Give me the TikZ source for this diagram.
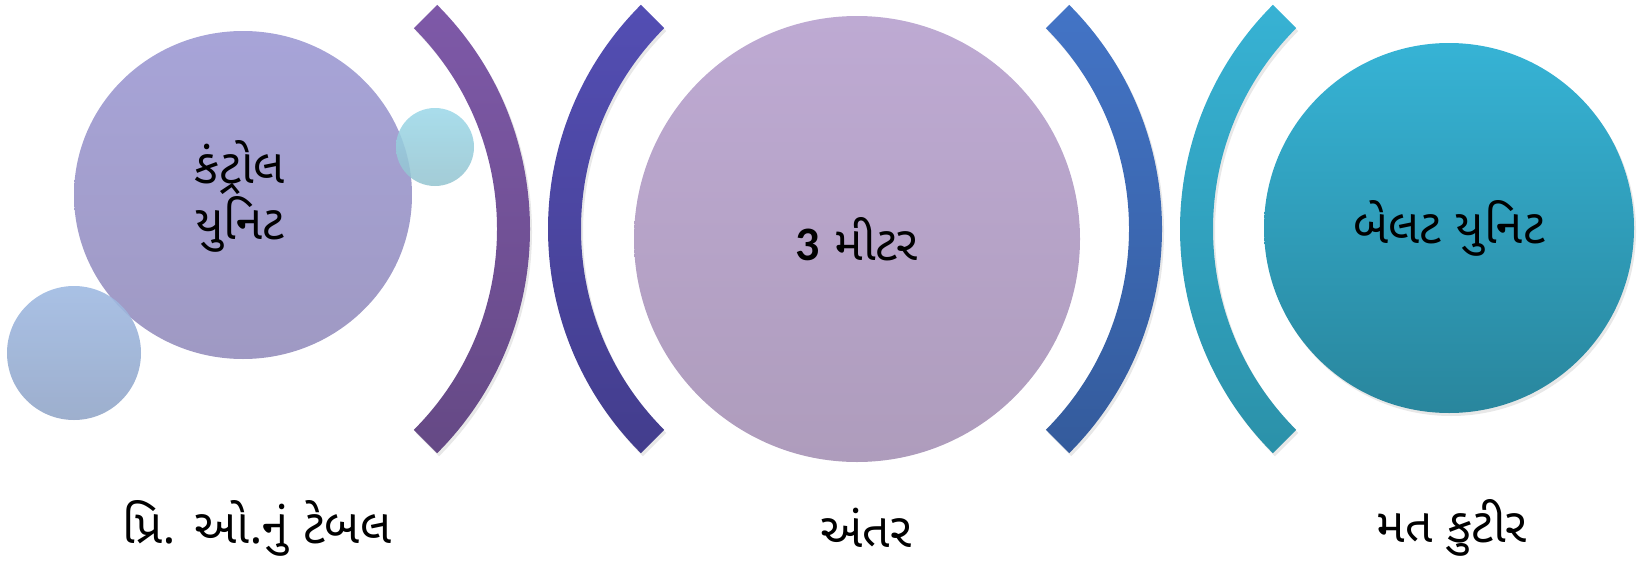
\documentclass[tikz,border=0pt]{standalone}
\usepackage{fontspec}
\setmainfont{Carlito}
\newfontfamily\gujfont[Script=Gujarati]{Noto Sans Gujarati UI}
\usepackage{xcolor}
\definecolor{ctrlTop}{HTML}{A7A4D8}
\definecolor{ctrlBot}{HTML}{9F99C3}
\definecolor{dropTop}{HTML}{9FBAE2}
\definecolor{dropBot}{HTML}{93A6C8}
\definecolor{dotTop}{HTML}{9AD7E8}
\definecolor{dotBot}{HTML}{93C3CF}
\definecolor{arcOneTop}{HTML}{7E59A8}
\definecolor{arcOneBot}{HTML}{654985}
\definecolor{arcTwoTop}{HTML}{534EB3}
\definecolor{arcTwoBot}{HTML}{433D8D}
\definecolor{distTop}{HTML}{BEAAD3}
\definecolor{distBot}{HTML}{AE9CBC}
\definecolor{arcThreeTop}{HTML}{4374C6}
\definecolor{arcThreeBot}{HTML}{345B9C}
\definecolor{arcFourTop}{HTML}{37B2D4}
\definecolor{arcFourBot}{HTML}{2B91A9}
\definecolor{beltTop}{HTML}{36B3D5}
\definecolor{beltBot}{HTML}{29869D}
\usetikzlibrary{calc,shapes.geometric,shadows}

\tikzset{
  bubble/.style={circle, inner sep=0pt, outer sep=0pt, align=center,
    font=\gujfont\fontsize{48}{56}\selectfont},
  band/.style={drop shadow={shadow xshift=2pt, shadow yshift=-3pt, opacity=.18}},
  caption/.style={font=\gujfont\fontsize{48}{56}\selectfont}
}

\begin{document}
\begin{tikzpicture}[x=1pt, y=1pt]
  \useasboundingbox (0,0) rectangle (1645,-562);
  \coordinate (a1) at (213,-229);
  \coordinate (a2) at (865,-229);
  \coordinate (a3) at (845,-229);
  \coordinate (a4) at (1497,-229);

  % circles
  \node[bubble, ellipse, minimum width=338pt, minimum height=328pt, top color=ctrlTop, bottom color=ctrlBot] (ctrl) at (243,-195) {};
  \node[bubble] (ctrltext) at (240,-196) {કંટ્રોલ\\યુનિટ};
  \node[bubble, minimum size=134pt, top color=dropTop, bottom color=dropBot, fill opacity=.9] (drop) at (74,-353) {};
  \node[bubble, minimum size=78pt, top color=dotTop, bottom color=dotBot, fill opacity=.85] (dot) at (435,-147) {};
  \node[bubble, minimum size=446pt, top color=distTop, bottom color=distBot] (dist) at (857,-239) {{\setmainfont{Carlito}\bfseries 3} મીટર};
  \node[bubble, band, minimum size=370pt, top color=beltTop, bottom color=beltBot] (belt) at (1449,-228) {બેલટ યુનિટ};

  % arcs
  \shade[band, top color=arcOneTop, bottom color=arcOneBot] ($(a1)+(-45:284pt)$) arc[start angle=-45, end angle=45, radius=284pt] -- ($(a1)+(45:317pt)$) arc[start angle=45, end angle=-45, radius=317pt] -- cycle;
  \shade[band, top color=arcTwoTop, bottom color=arcTwoBot] ($(a2)+(135:284pt)$) arc[start angle=135, end angle=225, radius=284pt] -- ($(a2)+(225:317pt)$) arc[start angle=225, end angle=135, radius=317pt] -- cycle;
  \shade[band, top color=arcThreeTop, bottom color=arcThreeBot] ($(a3)+(-45:284pt)$) arc[start angle=-45, end angle=45, radius=284pt] -- ($(a3)+(45:317pt)$) arc[start angle=45, end angle=-45, radius=317pt] -- cycle;
  \shade[band, top color=arcFourTop, bottom color=arcFourBot] ($(a4)+(135:284pt)$) arc[start angle=135, end angle=225, radius=284pt] -- ($(a4)+(225:317pt)$) arc[start angle=225, end angle=135, radius=317pt] -- cycle;

  % labels
  \node[caption] (table) at (257,-528) {પ્રિ. ઓ.નું ટેબલ};
  \node[caption] (gap) at (866,-528) {અંતર};
  \node[caption] (booth) at (1452,-528) {મત કુટીર};
\end{tikzpicture}
\end{document}
